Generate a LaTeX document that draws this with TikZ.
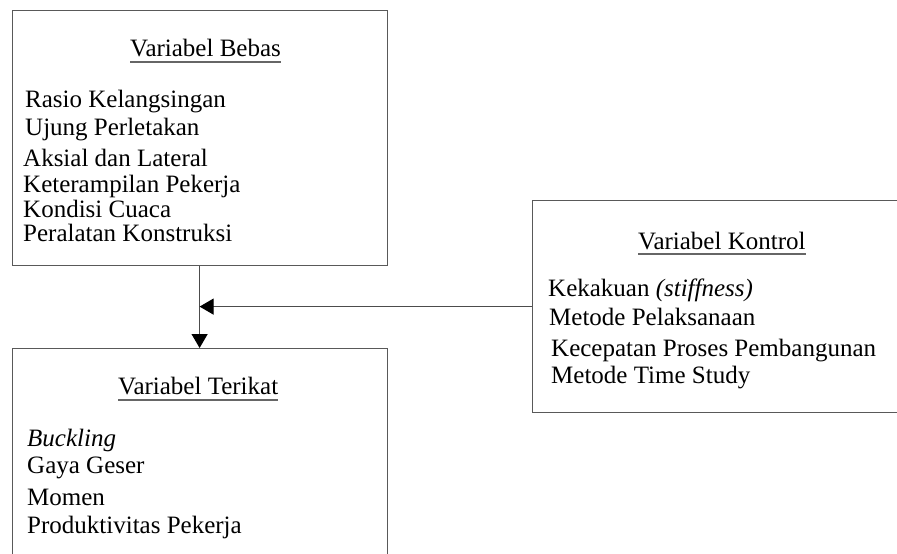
\documentclass[tikz,border=0pt]{standalone}
\usepackage{fontspec}
\setmainfont{Liberation Serif}
\usetikzlibrary{arrows.meta}
\begin{document}
\begin{tikzpicture}[x=1pt,y=-1pt,
  box/.style={draw=black!65, line width=1.2pt, anchor=north west, inner sep=0pt},
  txt/.style={anchor=base west, inner sep=0pt, font=\fontsize{25}{27}\selectfont},
  uline/.style={draw=black!60, line width=1.3pt},
  conn/.style={draw=black!70, line width=1.2pt},
  tip/.style={-{Triangle[length=14pt,width=16pt,color=black]}}
]
\useasboundingbox (0,0) rectangle (897,554);
\clip (0,0) rectangle (897,554);
% boxes
\node[box, minimum width=375pt, minimum height=255pt] (bebas) at (11.5,10) {};
\node[box, minimum width=375pt, minimum height=240pt] (terikat) at (11.5,348) {};
\node[box, minimum width=400pt, minimum height=212pt] (kontrol) at (532,200) {};
% Variabel Bebas
\node[txt] (tb) at (130,56) {Variabel Bebas};
\draw[uline] ([yshift=-6pt]tb.base west) -- ([yshift=-6pt]tb.base east);
\node[txt] (b1) at (25,107) {Rasio Kelangsingan};
\node[txt] (b2) at (25,135) {Ujung Perletakan};
\node[txt] (b3) at (23,166) {Aksial dan Lateral};
\node[txt] (b4) at (23,192) {Keterampilan Pekerja};
\node[txt] (b5) at (23,217) {Kondisi Cuaca};
\node[txt] (b6) at (23,241) {Peralatan Konstruksi};
% Variabel Kontrol
\node[txt] (tk) at (638,249) {Variabel Kontrol};
\draw[uline] ([yshift=-5pt]tk.base west) -- ([yshift=-5pt]tk.base east);
\node[txt] (k1) at (548,296) {Kekakuan \textit{(stiffness)}};
\node[txt] (k2) at (549,325) {Metode Pelaksanaan};
\node[txt] (k3) at (551,356) {Kecepatan Proses Pembangunan};
\node[txt] (k4) at (551,383) {Metode Time Study};
% Variabel Terikat
\node[txt] (tt) at (118,394) {Variabel Terikat};
\draw[uline] ([yshift=-6pt]tt.base west) -- ([yshift=-6pt]tt.base east);
\node[txt] (t1) at (27,446) {\textit{Buckling}};
\node[txt] (t2) at (27,473) {Gaya Geser};
\node[txt] (t3) at (27,505) {Momen};
\node[txt] (t4) at (27,533) {Produktivitas Pekerja};
% connectors
\draw[conn, tip] (bebas.south) -- (terikat.north);
\draw[conn, tip] (kontrol.west) -- (bebas.south |- kontrol.west);
\end{tikzpicture}
\end{document}
